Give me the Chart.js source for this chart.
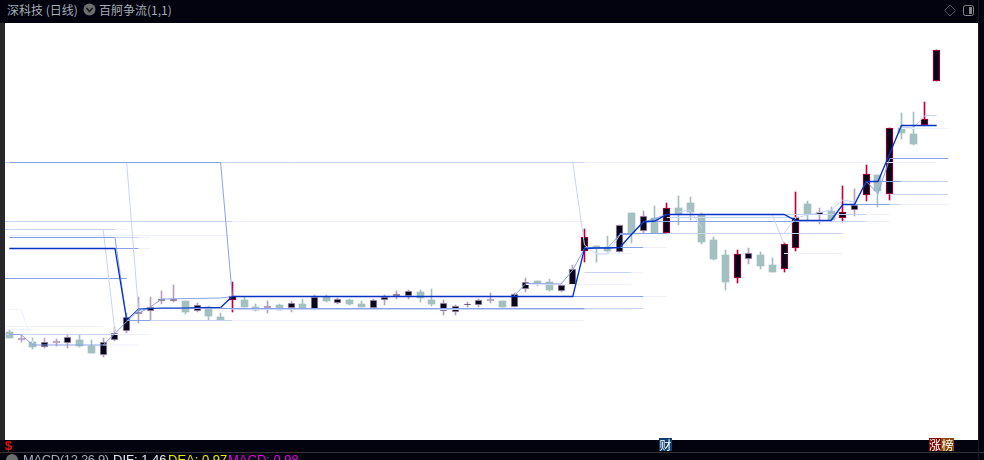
<!DOCTYPE html>
<html>
<head>
<meta charset="utf-8">
<style>
  html, body { margin:0; padding:0; background:#03030f; overflow:hidden; }
  body { width:984px; height:460px; position:relative; font-family:"Noto Sans CJK SC","Liberation Sans",sans-serif; }
  .abs { position:absolute; white-space:nowrap; }
  #left-strip { left:0; top:23px; width:5px; height:417px; background:#28282c; }
  #plot { position:absolute; left:5px; top:23px; background:#fff; }
  .head { top:0; height:20px; line-height:20px; font-size:12px; color:#a4acb6; }
  .mark { top:438px; height:13px; width:13px; line-height:13px; font-size:12px; color:#fff; text-align:center; }
  .macd { top:452px; font-family:"Liberation Sans",sans-serif; font-size:13px; line-height:16px; }
</style>
<script src="https://cdn.jsdelivr.net/npm/chart.js@4"></script>
</head>
<body>
<div class="abs" id="left-strip"></div>
<canvas id="plot" width="973" height="417"></canvas>

<div class="abs head" style="left:7px">深科技 (日线)</div>
<svg class="abs" style="left:83px;top:3px" width="13" height="13"><circle cx="6.5" cy="6.5" r="6" fill="#6e6e70"/><path d="M3.5 5 L6.5 8.5 L9.5 5" stroke="#16161c" stroke-width="1.6" fill="none"/></svg>
<div class="abs head" style="left:99px">百舸争流(1,1)</div>
<svg class="abs" style="left:943px;top:3px" width="36" height="15" fill="none"><path d="M7 2 L12.5 7.5 L7 13 L1.5 7.5 Z" stroke="#55555c"/><rect x="20.5" y="2.5" width="10" height="10" rx="2" stroke="#85858c"/><rect x="26" y="4" width="3" height="7" fill="#85858c"/></svg>

<div class="abs" style="left:0;top:452px;width:984px;height:1px;background:#333"></div>
<div class="abs" style="left:978px;top:0;width:1px;height:460px;background:#1c1c20"></div>
<div class="abs" style="left:5px;top:438px;font:bold 13px 'Liberation Sans',sans-serif;line-height:15px;color:#e81010">$</div>
<div class="abs mark" style="left:659px;background:#10406e">财</div>
<div class="abs mark" style="left:929px;width:12px;background:#800606">涨</div>
<div class="abs mark" style="left:941px;background:#8a4a08">榜</div>

<svg class="abs" style="left:5px;top:453px" width="14" height="7"><circle cx="7" cy="7" r="6" fill="#6e6e70"/></svg>
<div class="abs macd" style="left:23px;color:#a4acb6;letter-spacing:-0.35px">MACD(12,26,9)</div>
<div class="abs macd" style="left:113px;color:#e8e8f0">DIF: 1.46</div>
<div class="abs macd" style="left:168px;color:#e8e800">DEA: 0.97</div>
<div class="abs macd" style="left:228px;color:#e800e8">MACD: 0.98</div>

<script>
const DOM = id => document.getElementById(id);

// daily bars
const opens = [10.80,10.03,9.80,9.33,9.70,9.67,9.97,9.43,8.47,10.00,10.90,12.57,12.87,13.87,13.87,13.90,12.87,13.27,12.30,13.97,
  14.00,13.27,13.10,13.50,13.20,13.60,13.07,14.27,13.67,14.00,13.60,13.20,13.97,14.37,14.37,14.80,14.00,13.67,12.77,13.47,
  13.47,13.93,13.90,13.33,15.10,15.87,15.80,14.87,15.53,18.93,19.40,19.33,18.77,22.70,20.93,22.20,20.70,23.20,23.70,22.50,
  20.00,18.50,16.23,18.13,18.50,17.50,17.13,19.17,23.60,22.47,22.90,22.17,22.97,24.47,26.47,24.57,31.17,30.60,31.47,35.87];
const closes = [10.23,10.23,9.30,9.77,9.87,10.27,9.43,8.73,9.80,10.73,12.33,12.77,13.33,14.07,14.07,12.83,13.47,12.43,12.03,14.37,
  13.27,13.03,13.37,13.03,13.67,13.20,14.33,13.90,14.07,13.60,13.27,13.97,14.27,14.63,14.93,14.20,13.60,12.93,13.40,13.63,
  13.97,14.10,13.27,14.60,15.83,15.70,15.03,15.53,17.07,20.27,19.20,18.90,21.47,20.57,22.37,20.67,23.17,22.60,22.80,19.80,
  18.10,15.80,18.57,18.73,17.40,16.80,19.57,22.33,22.60,22.77,22.00,22.77,23.50,26.57,24.90,31.17,30.70,29.60,32.07,38.97];
const highs = [11.00,10.50,10.20,10.23,10.10,10.60,10.50,10.00,10.20,11.33,12.73,14.27,14.27,14.90,15.47,13.90,13.67,13.40,12.67,15.80,
  14.27,13.57,13.90,13.57,13.90,14.13,14.50,14.50,14.20,14.07,13.90,14.07,14.50,14.90,15.00,15.00,15.07,14.00,13.50,13.77,
  14.10,14.67,13.90,14.67,16.17,15.90,16.07,15.67,17.47,21.07,19.40,20.40,21.47,22.70,22.90,23.40,23.67,24.40,24.30,22.67,
  20.30,19.00,19.00,19.17,18.77,18.20,19.67,24.80,23.90,23.20,23.30,25.40,25.10,27.50,26.47,31.17,32.70,32.80,33.80,38.97];
const lows = [10.20,9.83,9.10,9.20,9.40,9.23,9.27,8.73,8.27,9.93,10.73,11.67,12.00,13.60,13.83,12.63,12.77,12.00,12.00,12.83,
  13.27,12.93,12.73,13.00,12.83,13.07,13.00,13.83,13.60,13.50,13.27,13.07,13.50,14.07,14.10,13.83,13.40,12.50,12.53,13.33,
  13.27,13.67,13.27,13.33,14.77,15.43,14.93,14.83,15.47,17.83,17.83,18.83,18.77,19.73,20.67,20.67,20.70,21.50,22.00,19.63,
  18.00,15.00,15.70,17.63,17.10,16.80,16.83,18.93,21.83,21.60,21.93,21.80,22.40,23.90,23.33,24.00,30.10,29.50,31.47,35.87];
// t = falling, m = small rise, p = flat rise, r = strong rise
const tones = 'tptmpmttmmmmmmmtmttrttptmtmtmttmmmmttmmmmptmmttmmrttmtmtrtttttrmttrrtmtrmrtrttrr'.split('');

// the main stepped line, one value per bar
const mainLine = [19.15,19.15,19.15,19.15,19.15,19.15,19.15,19.15,19.15,19.15,12.00,13.10,13.15,13.20,13.20,13.20,13.25,13.25,13.25,14.35,
  14.35,14.35,14.35,14.35,14.35,14.35,14.35,14.35,14.35,14.35,14.35,14.35,14.35,14.35,14.35,14.35,14.35,14.35,14.35,14.35,
  14.35,14.35,14.35,14.35,14.35,14.35,14.35,14.35,14.35,19.15,19.20,19.20,19.25,20.55,21.80,21.90,22.55,22.55,22.55,22.55,
  22.55,22.55,22.55,22.55,22.55,22.55,22.55,21.95,21.95,21.95,21.95,23.55,23.55,25.85,25.85,28.65,31.45,31.45,31.45,31.45];

// weaker lines as [bar, price]
const midFallA = [[0,27.75],[18,27.75],[19,14.35]];
const midFallB = [[0,20.25],[9,20.25],[10,12.00]];
const midRiseA = [[0,10.55],[1,10.55],[2,9.50],[8,9.50],[9,10.65],[10,11.85],[11,12.95],[12,13.15]];
const midRiseB = [[11,12.65],[12,13.30],[13,14.10],[18,14.20],[19,14.35]];
const midRiseC = [[43,14.40],[44,15.65],[47,15.60],[48,17.00],[49,19.15]];
const midRiseD = [[51,19.25],[52,20.55],[53,20.55],[54,21.80],[55,22.15],[56,22.55]];
const midDip = [[73,25.85],[74,24.65],[75,28.15]];
const lightFallA = [[8,21.05],[9,10.80]];
const lightFallB = [[10,27.75],[11,13.00]];
const lightFallC = [[48,27.75],[49,19.50],[50,18.60],[51,18.60],[52,20.50]];
const lightDipA = [[57,22.80],[58,23.00],[59,21.20]];
const lightDipB = [[65,22.50],[66,19.60]];
const lightDipC = [[66,20.70],[67,22.20],[68,22.50],[70,23.00],[71,24.00],[72,23.80],[73,25.80]];
const lightTop = [[76,31.30],[77,31.20],[78,32.45],[79,32.45]];
const faintStep = [[0,13.05],[1,13.05],[2,9.70]];

// horizontal levels left behind by the lines: from bar, to bar, price, strength (0 faint, 1 light, 2 medium)
const rayFrom = [-0.37,-0.37,-0.37,-0.37,-0.37,-0.37,-0.37,9,11,9,9,-0.37,-0.37,9,-0.37,-0.37,-0.37,8,
  10,12,19,12,49,19,49,48,54,49,53,44,50,49,54,52,56,54,67,73,56,66,73,71,75,76,73,76,75,75,76,66];
const rayTo = [79,49,19,49,9,10,19,11,12,11,12,10,9,12,2,8,2,11,
  12,19,49,49,54,49,53,54,56,53,54,53,53,54,56,56,71,67,73,75,67,73,75,75,76,80,76,80,80,80,80,71];
const rayPrice = [27.75,27.75,21.85,21.85,21.05,21.05,20.45,20.25,20.25,19.15,19.15,16.15,10.55,10.55,11.35,11.35,11.05,9.50,
  11.95,11.95,11.95,13.15,13.15,13.05,13.05,14.35,14.35,16.75,16.75,15.55,18.65,19.25,19.25,20.65,20.65,21.85,21.85,21.85,22.25,22.55,22.55,23.55,23.55,23.55,25.85,25.85,24.55,28.15,31.15,18.65];
const rayStrength = [0,1,1,0,1,0,0,1,0,2,0,2,1,0,0,0,0,0,
  2,1,0,2,1,1,0,2,0,1,0,0,0,2,0,2,1,2,1,0,1,1,0,2,1,0,2,1,1,2,0,0];

const candleFill = { t:'#a3bfbf', m:'#08081a', p:'#b79fc0', r:'#08081a' };
const candleEdge = { t:'#a3bfbf', m:'#b79fc0', p:'#b79fc0', r:'#c4003c' };
const rayColors = ['#eef1fb', '#c8d4f4', '#8aa2e8'];

function pathSet(points, color, order) {
  return { type:'line', data:points.map(p => ({ x:p[0], y:p[1] })), borderColor:color, borderWidth:1, pointRadius:0, tension:0, order };
}

// keep candles on whole pixels so the edges stay sharp
const snapBars = {
  id:'snapBars',
  afterDatasetsUpdate(chart) {
    chart.data.datasets.forEach((ds, idx) => {
      if(ds.type !== 'bar') return;
      chart.getDatasetMeta(idx).data.forEach(el => {
        el.x = Math.floor(el.x) + 0.5;
        el.y = Math.round(el.y);
        el.base = Math.round(el.base);
      });
    });
  }
};

const bars = opens.map((o, i) => i);
const datasets = [
  {
    type:'bar', grouped:false, order:6, barThickness:1,
    data:bars.map(i => ({ x:i, y:[lows[i], highs[i]] })),
    backgroundColor:tones.map(t => candleEdge[t]), borderWidth:0
  },
  {
    type:'bar', grouped:false, order:5, barThickness:7,
    data:bars.map(i => ({ x:i, y:[opens[i], closes[i]] })),
    backgroundColor:tones.map(t => candleFill[t]),
    borderColor:tones.map(t => candleEdge[t]),
    borderWidth:tones.map(t => t === 't' ? 0 : 1), borderSkipped:false
  },
  {
    type:'line', order:0, data:mainLine.map((v, i) => ({ x:i, y:v })),
    borderColor:'#0033c4', borderWidth:1.3, pointRadius:0, tension:0,
    segment:{ borderWidth:ctx => (ctx.p0DataIndex >= 10 && ctx.p0DataIndex < 18) ? 1 : 1.3 }
  }
];

[midFallA, midFallB, midRiseA, midRiseB, midRiseC, midRiseD, midDip].forEach(p => datasets.push(pathSet(p, rayColors[2], 1)));
[lightFallA, lightFallB, lightFallC, lightDipA, lightDipB, lightDipC, lightTop].forEach(p => datasets.push(pathSet(p, rayColors[1], 2)));
datasets.push(pathSet(faintStep, rayColors[0], 3));

rayPrice.forEach((price, i) => {
  const s = rayStrength[i];
  datasets.push(pathSet([[rayFrom[i], price], [rayTo[i], price]], rayColors[s], 4 - s));
});

new Chart(DOM('plot').getContext('2d'), {
  data:{ datasets },
  plugins:[snapBars],
  options:{
    responsive:false, animation:false,
    layout:{ padding:0 },
    plugins:{ legend:{ display:false }, tooltip:{ enabled:false } },
    scales:{
      x:{ type:'linear', display:false, min:-0.366, max:82.52, offset:false, grid:{ display:false } },
      y:{ type:'linear', display:false, min:0, max:41.7, grid:{ display:false } }
    }
  }
});
</script>
</body>
</html>
